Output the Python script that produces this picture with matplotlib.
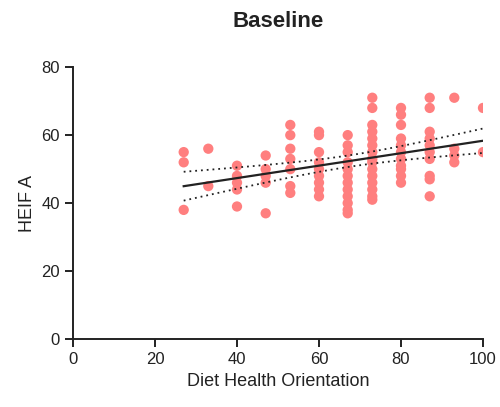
import matplotlib
matplotlib.use("Agg")
import matplotlib.pyplot as plt
import numpy as np

plt.rcParams['font.family'] = ['Liberation Sans', 'DejaVu Sans']

# diet health orientation scores (columns) and the HEIF A values in each column
x_levels = [27, 33, 40, 47, 53, 60, 67, 73, 80, 87, 93, 100]
heif_by_level = [
    [55, 52, 38],
    [56, 45],
    [51, 48, 46, 44, 39],
    [54, 50, 48, 46, 37],
    [63, 60, 56, 53, 50, 45, 43],
    [61, 60, 55, 52, 50, 48, 46, 44, 42],
    [60, 57, 55, 52, 50, 48, 46, 44, 42, 40, 38, 37],
    [71, 68, 63, 61, 59, 57, 55, 53, 52, 50, 48, 46, 44, 42, 41],
    [68, 66, 63, 59, 57, 55, 53, 51, 50, 48, 46],
    [71, 68, 61, 59, 57, 55, 53, 48, 47, 42],
    [71, 56, 54, 52],
    [68, 55],
]

x = np.concatenate([[lv] * len(v) for lv, v in zip(x_levels, heif_by_level)]).astype(float)
y = np.concatenate(heif_by_level).astype(float)

# linear fit + 95% confidence band
n = len(x)
slope, intercept = np.polyfit(x, y, 1)
xf = np.linspace(x.min(), x.max(), 100)
yf = slope * xf + intercept
resid = y - (slope * x + intercept)
s = np.sqrt(np.sum(resid ** 2) / (n - 2))
sxx = np.sum((x - x.mean()) ** 2)
se = s * np.sqrt(1.0 / n + (xf - x.mean()) ** 2 / sxx)
t = 1.99
lo = yf - t * se
hi = yf + t * se

fig = plt.figure(figsize=(5, 4.07), dpi=100)
ax = fig.add_axes([0.146, 0.167, 0.82, 0.668])

ax.scatter(x, y, s=55, color='#ff7f7f', edgecolors='none', zorder=2)
ax.plot(xf, yf, color='#222222', lw=1.6, zorder=3)
ax.plot(xf, lo, color='#222222', lw=1.3, ls=(0, (1, 2.2)), zorder=3)
ax.plot(xf, hi, color='#222222', lw=1.3, ls=(0, (1, 2.2)), zorder=3)

ax.set_xlim(0, 100)
ax.set_ylim(0, 80)
ax.set_xticks([0, 20, 40, 60, 80, 100])
ax.set_yticks([0, 20, 40, 60, 80])
for side in ['top', 'right']:
    ax.spines[side].set_visible(False)
for side in ['left', 'bottom']:
    ax.spines[side].set_linewidth(1.4)
    ax.spines[side].set_color('#222222')
ax.tick_params(width=1.4, length=6, labelsize=12, color='#222222', labelcolor='#222222')

ax.set_xlabel('Diet Health Orientation', fontsize=13, color='#222222')
ax.set_ylabel('HEIF A', fontsize=13, color='#222222')
ax.set_title('Baseline', fontsize=16, fontweight='bold', pad=29, color='#222222')

fig.savefig('out.png', dpi=100)
